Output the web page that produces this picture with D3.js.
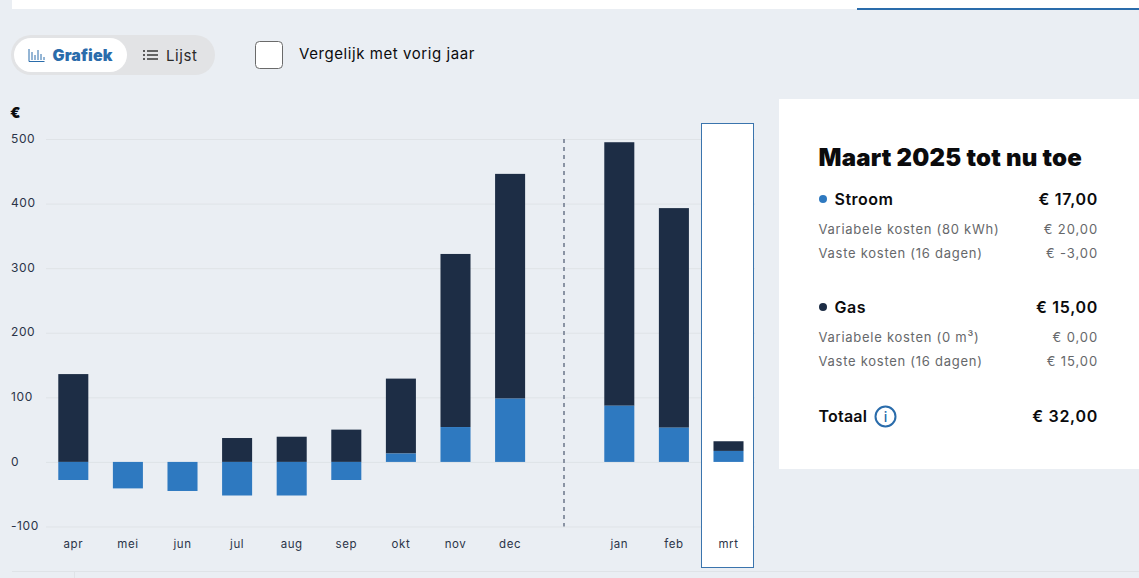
<!DOCTYPE html>
<html lang="nl">
<head>
<meta charset="utf-8">
<script src="https://cdn.jsdelivr.net/npm/d3@7/dist/d3.min.js"></script>
<style>
html,body{margin:0;padding:0;background:#eaeef3;overflow:hidden}
svg{display:block}
text{font-family:Inter,"Noto Sans",sans-serif}
</style>
</head>
<body>
<svg id="c" width="1139" height="578"></svg>
<script>
const months = ["apr","mei","jun","jul","aug","sep","okt","nov","dec","","jan","feb","mrt"];
const stroom = [-28,-41,-45,-52,-52,-28,13,54,98,null,87,53,17];
const gas    = [136,0,0,37,39,50,116,268,348,null,408,340,15];
const yTicks = [500,400,300,200,100,0,-100];
const panelTitle = "Maart 2025 tot nu toe";
const stroomRows = [["Variabele kosten (80 kWh)","€ 20,00"],["Vaste kosten (16 dagen)","€ -3,00"]];
const gasRows = [["Variabele kosten (0 m³)","€ 0,00"],["Vaste kosten (16 dagen)","€ 15,00"]];

const svg = d3.select("#c");
const BLUE="#2e79c0", NAVY="#1d2d45", LINK="#2a6cab", INK="#0b0b0d", GREY="#66686b", AXIS="#2b3448";

// page chrome
svg.append("rect").attr("x",12).attr("y",0).attr("width",1127).attr("height",9).attr("fill","#fff");
svg.append("rect").attr("x",857).attr("y",8).attr("width",282).attr("height",2).attr("fill",LINK);

// toggle
svg.append("rect").attr("x",11).attr("y",35).attr("width",204).attr("height",40).attr("rx",20).attr("fill","#e2e3e5");
svg.append("rect").attr("x",14).attr("y",38).attr("width",113).attr("height",34).attr("rx",17).attr("fill","#fff");
const ico = svg.append("g").attr("stroke",LINK).attr("stroke-width",1).attr("fill","none");
ico.append("path").attr("d","M29 49V61.5H44.5M32 52V60M35 55V60M38 50V60M41 54V60M44 57V60");
svg.append("text").attr("x",52.5).attr("y",60.5).attr("font-size",16).attr("font-weight",900).attr("fill",LINK).attr("letter-spacing",.1).text("Grafiek");
const ic2 = svg.append("g").attr("stroke","#2b2b2b").attr("stroke-width",1.4);
[51,55,59].forEach(y=>{
  ic2.append("line").attr("x1",143).attr("x2",145).attr("y1",y).attr("y2",y);
  ic2.append("line").attr("x1",147).attr("x2",158).attr("y1",y).attr("y2",y);
});
svg.append("text").attr("x",166).attr("y",61).attr("font-size",15).attr("fill","#2a2a2a").attr("letter-spacing",.6).text("Lijst");
svg.append("rect").attr("x",255.5).attr("y",41.5).attr("width",27).attr("height",27).attr("rx",4).attr("fill","#fff").attr("stroke","#6a6a6a");
svg.append("text").attr("x",299).attr("y",59).attr("font-size",15).attr("fill",INK).attr("letter-spacing",.57).text("Vergelijk met vorig jaar");

// scales
const y = d3.scaleLinear().domain([-100,500]).range([526.5,139]);
const x = d3.scaleBand().domain(d3.range(months.length)).range([46,755.8]).paddingInner(.45).paddingOuter(.225);

// grid + y axis
const yAxis = d3.axisLeft(y).tickValues(yTicks).tickSize(0).tickPadding(0).tickFormat(d=>d);
const gy = svg.append("g").attr("transform","translate(46,0)").call(yAxis);
gy.select(".domain").remove();
gy.selectAll("line").attr("x1",0).attr("x2",709).attr("stroke","#dfe3e7");
gy.selectAll("text").attr("x",-35).attr("text-anchor","start").attr("dy",".26em").attr("font-size",12).attr("fill",AXIS).attr("letter-spacing",.6);
svg.append("text").attr("x",10).attr("y",118).attr("font-size",15).attr("font-weight",900).attr("fill",INK).text("€");

// highlight column, above the grid
svg.append("rect").attr("x",701.5).attr("y",123.5).attr("width",52).attr("height",444).attr("fill","#fff").attr("stroke","#3a74ad");

// separator
svg.append("line").attr("x1",564).attr("x2",564).attr("y1",y(500)).attr("y2",y(-100)).attr("stroke","#8a93a3").attr("stroke-width",2).attr("stroke-dasharray","4 4");

// x axis labels
const xAxis = d3.axisBottom(x).tickSize(0).tickPadding(0).tickFormat(i=>months[i]);
const gx = svg.append("g").attr("transform","translate(0,540)").call(xAxis);
gx.select(".domain").remove();
gx.selectAll("text").attr("dy","0.71em").attr("font-size",11.5).attr("fill",AXIS).attr("letter-spacing",.55);

// bars
const idx = d3.range(months.length).filter(i=>stroom[i]!==null);
svg.append("g").selectAll("rect").data(idx).join("rect")
  .attr("x",i=>x(i)).attr("width",x.bandwidth())
  .attr("y",i=>y(Math.max(0,stroom[i])+gas[i]))
  .attr("height",i=>y(Math.max(0,stroom[i]))-y(Math.max(0,stroom[i])+gas[i]))
  .attr("fill",NAVY);
svg.append("g").selectAll("rect").data(idx).join("rect")
  .attr("x",i=>x(i)).attr("width",x.bandwidth())
  .attr("y",i=>y(Math.max(0,stroom[i])))
  .attr("height",i=>Math.abs(y(stroom[i])-y(0)))
  .attr("fill",BLUE);

// bottom rule
svg.append("rect").attr("x",12).attr("y",571).attr("width",1127).attr("height",1).attr("fill","#dfe3e7");
svg.append("rect").attr("x",74).attr("y",572).attr("width",1).attr("height",6).attr("fill","#dfe3e7");

// panel
svg.append("rect").attr("x",779).attr("y",99).attr("width",360).attr("height",370).attr("fill","#fff");
svg.append("text").attr("x",818.5).attr("y",165.5).attr("font-size",24).attr("font-weight",900).attr("fill",INK).attr("letter-spacing",.2).text(panelTitle);

function head(yy,dot,label,val){
  svg.append("circle").attr("cx",823).attr("cy",yy-5.5).attr("r",4).attr("fill",dot);
  svg.append("text").attr("x",834.5).attr("y",yy).attr("font-size",16).attr("font-weight",600).attr("fill",INK).attr("letter-spacing",.5).text(label);
  svg.append("text").attr("x",1098).attr("y",yy).attr("text-anchor","end").attr("font-size",16).attr("font-weight",600).attr("fill",INK).attr("letter-spacing",.7).text(val);
}
function rows(arr,y0){
  arr.forEach((r,k)=>{
    const yy=y0+k*24;
    svg.append("text").attr("x",818.5).attr("y",yy).attr("font-size",13).attr("fill",GREY).attr("letter-spacing",.73).text(r[0]);
    svg.append("text").attr("x",1098).attr("y",yy).attr("text-anchor","end").attr("font-size",13).attr("fill",GREY).attr("letter-spacing",.9).text(r[1]);
  });
}
head(204.5,BLUE,"Stroom","€ 17,00"); rows(stroomRows,234);
head(312.5,NAVY,"Gas","€ 15,00"); rows(gasRows,342);
svg.append("text").attr("x",818.5).attr("y",422).attr("font-size",16).attr("font-weight",600).attr("fill",INK).attr("letter-spacing",.2).text("Totaal");
svg.append("text").attr("x",1098).attr("y",422).attr("text-anchor","end").attr("font-size",16).attr("font-weight",600).attr("fill",INK).attr("letter-spacing",.7).text("€ 32,00");
svg.append("circle").attr("cx",885.5).attr("cy",416.5).attr("r",10).attr("fill","none").attr("stroke",LINK).attr("stroke-width",2);
svg.append("text").attr("x",885.5).attr("y",421.5).attr("text-anchor","middle").attr("font-size",14).attr("font-weight",500).attr("fill",LINK).text("i");
</script>
</body>
</html>
